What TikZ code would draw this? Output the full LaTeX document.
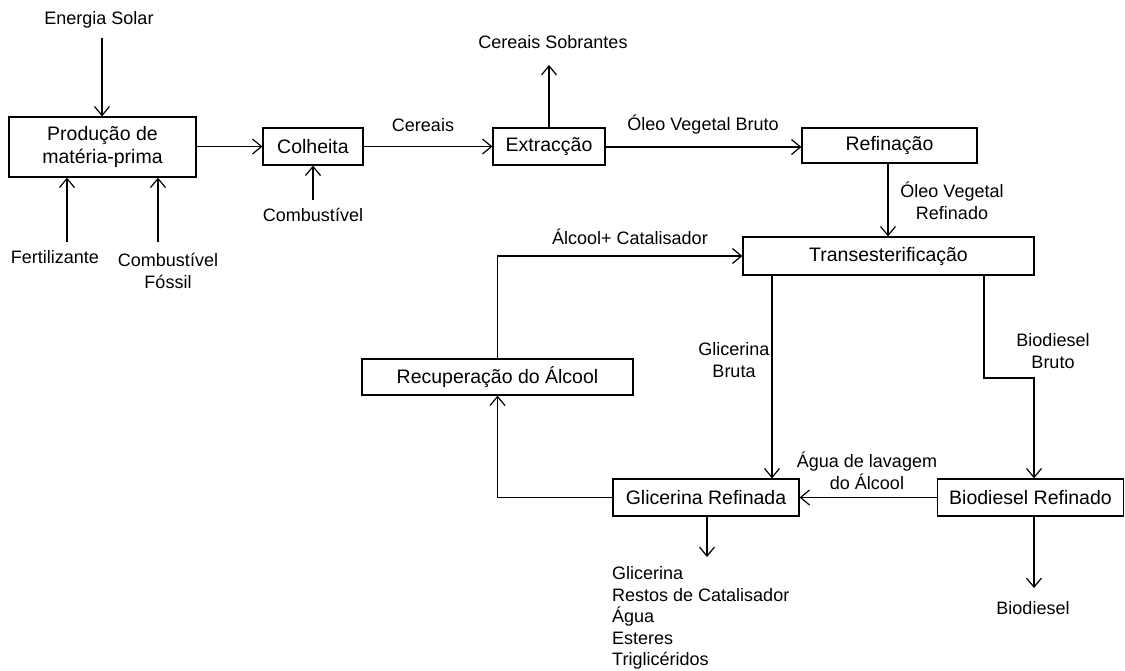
\documentclass[tikz,border=0pt]{standalone}
\usepackage{fontspec}
\setmainfont{Liberation Sans}
\usetikzlibrary{arrows.meta}
\begin{document}
\begin{tikzpicture}[x=1pt,y=-1pt,
  lbl/.style={font=\fontsize{18}{21.5}\selectfont, inner sep=0pt, align=center},
  box/.style={draw, line width=1.2pt, font=\fontsize{19.5}{23.5}\selectfont, inner sep=0pt, align=center},
  arr/.style={line width=1.2pt, -{Straight Barb[length=9pt,width=15pt,line width=1.2pt]}},
  ln/.style={line width=1.2pt}]
\useasboundingbox (0,0) rectangle (1125,670);
% boxes
\node[box, minimum width=187pt, minimum height=60pt] (prod) at (102.5,147) {Produção de\\matéria-prima};
\node[box, minimum width=100pt, minimum height=37pt] (colh) at (313,146.5) {Colheita};
\node[box, minimum width=112pt, minimum height=37pt] (extr) at (549,146.5) {Extracção};
\node[box, minimum width=175pt, minimum height=35pt] (refi) at (889.5,145.5) {Refinação};
\node[box, minimum width=291pt, minimum height=38pt] (tran) at (888.5,256) {Transesterificação};
\node[box, minimum width=271pt, minimum height=36pt] (recu) at (497.5,377) {Recuperação do Álcool};
\node[box, minimum width=186pt, minimum height=37pt] (glir) at (706,497.5) {Glicerina Refinada};
\node[box, minimum width=186pt, minimum height=37pt] (bior) at (1030.5,497.5) {Biodiesel Refinado};
% text labels
\node[lbl] (es) at (99,20) {Energia Solar};
\node[lbl] (fert) at (55,257) {Fertilizante};
\node[lbl] (cf) at (168,271) {Combustível\\Fóssil};
\node[lbl] (comb) at (313,215) {Combustível};
\node[lbl] (cer) at (423,125) {Cereais};
\node[lbl] (cs) at (553,42) {Cereais Sobrantes};
\node[lbl] (ovb) at (703,125) {Óleo Vegetal Bruto};
\node[lbl] (ovr) at (952,201) {Óleo Vegetal\\Refinado};
\node[lbl] (ac) at (630,237) {Álcool+ Catalisador};
\node[lbl] (gb) at (734,360) {Glicerina\\Bruta};
\node[lbl] (bb) at (1053,351) {Biodiesel\\Bruto};
\node[lbl] (agua) at (867,471) {Água de lavagem\\do Álcool};
\node[lbl, align=left, anchor=west] (lst) at (612,618) {Glicerina\\Restos de Catalisador\\Água\\Esteres\\Triglicéridos};
\node[lbl] (bio) at (1033,608) {Biodiesel};
% free ends
\coordinate (esA) at (102,38);
\coordinate (feA) at (67,242);
\coordinate (cfA) at (158,242);
\coordinate (coA) at (313,200);
\coordinate (csA) at (549,65);
\coordinate (liA) at (707,557);
\coordinate (biA) at (1034,588);
% connectors
\draw[arr] (esA) -- (esA |- prod.north);
\draw[arr] (feA) -- (feA |- prod.south);
\draw[arr] (cfA) -- (cfA |- prod.south);
\draw[arr] (prod.east |- colh.west) -- (colh.west);
\draw[arr] (coA) -- (coA |- colh.south);
\draw[arr] (colh.east) -- (extr.west);
\draw[arr] (extr.north) -- (csA);
\draw[arr] (extr.east |- 0,147) -- (refi.west |- 0,147);
\draw[arr] (888,0 |- refi.south) -- (888,0 |- tran.north);
\draw[arr] (recu.north) -- (recu.north |- tran.west) -- (tran.west);
\draw[arr] (772,0 |- tran.south) -- (772,0 |- glir.north);
\draw[arr] (984,0 |- tran.south) -- (984,378) -- (1034,378) -- (1034,0 |- bior.north);
\draw[arr] (bior.west) -- (glir.east);
\draw[arr] (glir.west) -- (recu.south |- glir.west) -- (recu.south);
\draw[arr] (liA |- glir.south) -- (liA);
\draw[arr] (biA |- bior.south) -- (biA);
\end{tikzpicture}
\end{document}
